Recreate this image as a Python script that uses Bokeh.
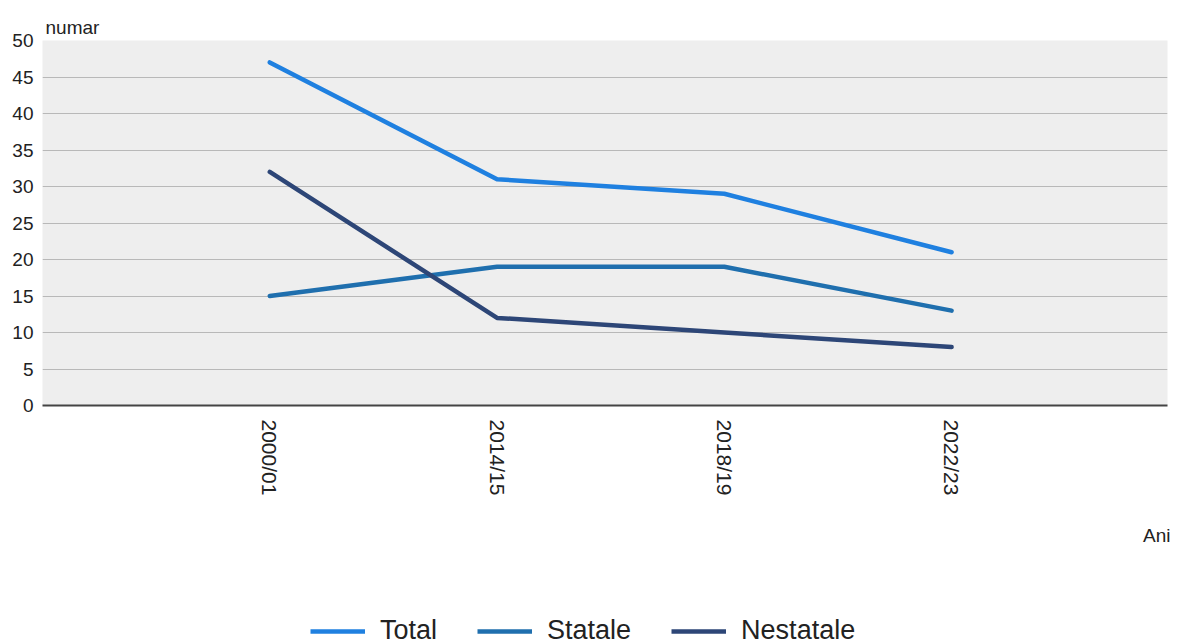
from bokeh.plotting import figure
from bokeh.layouts import column
from bokeh.models import (Range1d, FixedTicker, Title, Legend, LegendItem)
from bokeh.embed import file_html
from bokeh.resources import INLINE

# Number of institutions by school year
years = ["2000/01", "2014/15", "2018/19", "2022/23"]
total = [47, 31, 29, 21]
statale = [15, 19, 19, 13]
nestatale = [32, 12, 10, 8]

series_names = ["Total", "Statale", "Nestatale"]
series_colors = ["#1f80e0", "#1f6fae", "#2d4677"]

FONT = "Liberation Sans"
TEXT_COLOR = "#222222"

x_pos = list(range(1, len(years) + 1))

p = figure(frame_width=1125, frame_height=365,
           output_backend="svg", toolbar_location=None,
           x_range=Range1d(0, 4.95), y_range=Range1d(0, 50),
           min_border_left=42, min_border_right=11,
           min_border_top=40, min_border_bottom=170)

p.background_fill_color = "#eeeeee"
p.border_fill_color = "white"
p.outline_line_color = None

# unit label above the value axis
p.title.text = "numar"
p.title.align = "left"
p.title.offset = 3
p.title.standoff = 6
p.title.text_font = FONT
p.title.text_font_size = "19px"
p.title.text_font_style = "normal"
p.title.text_color = TEXT_COLOR

# y axis: plain labels, no line or ticks
p.yaxis.ticker = FixedTicker(ticks=list(range(0, 51, 5)))
p.yaxis.axis_line_color = None
p.yaxis.major_tick_line_color = None
p.yaxis.minor_tick_line_color = None
p.yaxis.major_label_text_font = FONT
p.yaxis.major_label_text_font_size = "19px"
p.yaxis.major_label_text_color = TEXT_COLOR
p.yaxis.major_label_standoff = 3

# x axis: dark baseline with rotated category labels
p.xaxis.ticker = FixedTicker(ticks=x_pos)
p.xaxis.major_label_overrides = {i: y for i, y in zip(x_pos, years)}
p.xaxis.axis_line_color = "#444444"
p.xaxis.axis_line_width = 2
p.xaxis.major_tick_line_color = None
p.xaxis.minor_tick_line_color = None
p.xaxis.major_label_orientation = -1.5707963
p.xaxis.major_label_text_font = FONT
p.xaxis.major_label_text_font_size = "21px"
p.xaxis.major_label_text_color = TEXT_COLOR
p.xaxis.major_label_standoff = 8

p.xgrid.grid_line_color = None
p.ygrid.grid_line_color = "#b8b8b8"
p.ygrid.grid_line_width = 1

for vals, color in zip([total, statale, nestatale], series_colors):
    p.line(x_pos, vals, line_color=color, line_width=4.5, line_cap="round",
           line_join="round")

# category axis name, right-aligned under the tick labels
p.add_layout(Title(text="Ani", align="right", offset=-3, standoff=49,
                   text_font=FONT, text_font_size="19px",
                   text_font_style="normal", text_color=TEXT_COLOR), "below")

# legend strip under the chart
leg = figure(width=1178, height=69, output_backend="svg", toolbar_location=None,
             x_axis_type=None, y_axis_type=None,
             min_border_left=0, min_border_right=0,
             min_border_top=0, min_border_bottom=0)
leg.outline_line_color = None
leg.xgrid.visible = False
leg.ygrid.visible = False
leg.background_fill_color = "white"
leg.border_fill_color = "white"

# swatch renderers: a single undefined point each, so only the legend shows them
nan = float("nan")
swatches = [leg.line([nan], [nan], line_color=c, line_width=4.5)
            for c in series_colors]

legend = Legend(items=[LegendItem(label=n, renderers=[r])
                       for n, r in zip(series_names, swatches)],
                orientation="horizontal", location=(268, -2),
                padding=0, margin=0, spacing=40,
                glyph_width=55, glyph_height=30, label_height=30,
                label_standoff=15,
                label_text_font=FONT, label_text_font_size="27px",
                label_text_color=TEXT_COLOR,
                border_line_color=None, background_fill_alpha=0)
leg.add_layout(legend, "center")

layout = column(p, leg, spacing=0)

open("out.html", "w").write(file_html(layout, INLINE))
